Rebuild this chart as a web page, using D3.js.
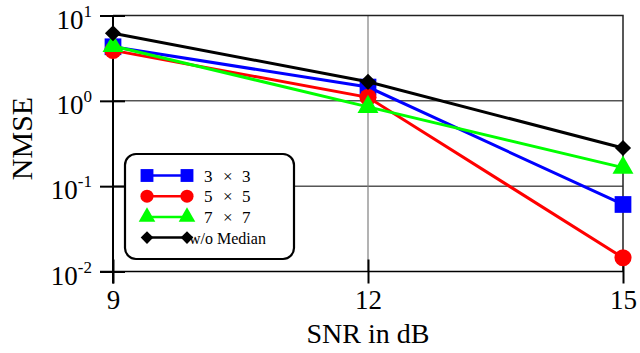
<html>
<head>
<style>
  body { margin: 0; background: #fff; }
  svg { font-family: "Liberation Serif", "DejaVu Serif", serif; }
</style>
</head>
<body>
<div id="graph"></div>
<script src="https://cdnjs.cloudflare.com/ajax/libs/d3/7.8.5/d3.min.js"></script>
<script>
  // data
  var snr = [9, 12, 15];
  var nmse3x3 = [4.3, 1.45, 0.061];
  var nmse5x5 = [3.9, 1.1, 0.0145];
  var nmse7x7 = [4.4, 0.85, 0.165];
  var nmseNoMedian = [6.2, 1.67, 0.28];
  var seriesNames = [["3", "\u00d7", "3"], ["5", "\u00d7", "5"], ["7", "\u00d7", "7"], ["w/o Median"]];
  var yTickExps = [1, 0, -1, -2];

  var width = 640, height = 353;
  // plot box (note: "top" is taken by window.top)
  var pLeft = 113, pRight = 623, pTop = 15.5, pBottom = 271.5;

  var x = d3.scaleLinear().domain([9, 15]).range([pLeft, pRight]);
  var y = d3.scaleLog().domain([0.01, 10]).range([pBottom, pTop]);

  var svg = d3.select("#graph").append("svg")
      .attr("width", width)
      .attr("height", height);

  // grid
  svg.selectAll(".hgrid")
      .data([1, 0.1])
      .enter().append("line")
      .attr("x1", pLeft).attr("x2", pRight)
      .attr("y1", function(d) { return y(d); })
      .attr("y2", function(d) { return y(d); })
      .attr("stroke", "#000").attr("stroke-width", 1);

  svg.append("line")
      .attr("x1", x(12)).attr("x2", x(12))
      .attr("y1", pTop).attr("y2", pBottom)
      .attr("stroke", "#808080").attr("stroke-width", 1.2);

  // frame top / right
  svg.append("path")
      .attr("d", "M" + pLeft + "," + pTop + "H" + pRight + "V" + pBottom)
      .attr("fill", "none").attr("stroke", "#222").attr("stroke-width", 1.5);

  // x axis
  var xAxis = svg.append("g")
      .attr("transform", "translate(0," + pBottom + ")")
      .call(d3.axisBottom(x).tickValues(snr).tickFormat(d3.format("d"))
            .tickSize(12).tickPadding(6).tickSizeOuter(0));
  xAxis.select(".domain").attr("d", "M" + (pLeft - 13) + ",0H" + pRight).attr("stroke-width", 1.5);
  xAxis.selectAll(".tick line").attr("y1", -12).attr("stroke-width", 2);
  xAxis.selectAll(".tick text")
      .attr("font-size", 27).attr("fill", "#000")
      .attr("font-family", "Liberation Serif");

  // y axis
  var yAxis = svg.append("g")
      .attr("transform", "translate(" + pLeft + ",0)")
      .call(d3.axisLeft(y).tickValues(yTickExps.map(function(e) { return Math.pow(10, e); }))
            .tickSize(13).tickSizeOuter(0).tickFormat(""));
  yAxis.select(".domain").attr("d", "M0," + pTop + "V" + (pBottom + 12)).attr("stroke-width", 2);
  yAxis.selectAll(".tick line").attr("x2", -13).attr("x1", 12).attr("stroke-width", 2);

  var yLabels = svg.selectAll(".ylab")
      .data(yTickExps)
      .enter().append("text")
      .attr("x", 92)
      .attr("y", function(e) { return y(Math.pow(10, e)) + 13; })
      .attr("text-anchor", "end")
      .attr("font-size", 27);
  yLabels.append("tspan").text("10");
  yLabels.append("tspan")
      .attr("dy", -12)
      .attr("font-size", 17)
      .text(function(e) { return e; });

  // axis titles
  svg.append("text")
      .attr("x", x(12)).attr("y", 343)
      .attr("text-anchor", "middle")
      .attr("font-size", 28)
      .text("SNR in dB");

  svg.append("text")
      .attr("transform", "translate(32," + ((pTop + pBottom) / 2 - 5) + ") rotate(-90)")
      .attr("text-anchor", "middle")
      .attr("font-size", 30)
      .text("NMSE");

  // series
  var series = [
    { name: seriesNames[0], values: nmse3x3, color: "#0000ff", symbol: d3.symbolSquare, rot: 0, size: 280, legendSize: 165 },
    { name: seriesNames[1], values: nmse5x5, color: "#ff0000", symbol: d3.symbolCircle, rot: 0, size: 230, legendSize: 135 },
    { name: seriesNames[2], values: nmse7x7, color: "#00ff00", symbol: d3.symbolTriangle, rot: 0, size: 190, legendSize: 120 },
    { name: seriesNames[3], values: nmseNoMedian, color: "#000000", symbol: d3.symbolSquare, rot: 45, size: 130, legendSize: 80 }
  ];

  var line = d3.line()
      .x(function(d, i) { return x(snr[i]); })
      .y(function(d) { return y(d); });

  series.forEach(function(s) {
    var g = svg.append("g");
    g.append("path")
        .attr("d", line(s.values))
        .attr("fill", "none")
        .attr("stroke", s.color)
        .attr("stroke-width", 3);
    g.selectAll("path.mark")
        .data(s.values)
        .enter().append("path")
        .attr("class", "mark")
        .attr("transform", function(d, i) {
          return "translate(" + x(snr[i]) + "," + y(d) + ") rotate(" + s.rot + ")";
        })
        .attr("d", d3.symbol().type(s.symbol).size(s.size))
        .attr("fill", s.color);
  });

  // legend
  var legend = svg.append("g").attr("transform", "translate(125,154)");
  legend.append("rect")
      .attr("x", 0).attr("y", 0)
      .attr("width", 169).attr("height", 105)
      .attr("rx", 11).attr("ry", 11)
      .attr("fill", "#fff").attr("stroke", "#000").attr("stroke-width", 2.2);

  var rows = legend.selectAll(".row")
      .data(series)
      .enter().append("g")
      .attr("transform", function(d, i) { return "translate(0," + (21.5 + i * 20.7) + ")"; });
  rows.append("line")
      .attr("x1", 22).attr("x2", 62)
      .attr("stroke", function(d) { return d.color; })
      .attr("stroke-width", 2.5);
  rows.selectAll(".lm")
      .data(function(d) { return [d, d]; })
      .enter().append("path")
      .attr("transform", function(d, i) { return "translate(" + (i ? 62 : 22) + ",0) rotate(" + d.rot + ")"; })
      .attr("d", function(d) { return d3.symbol().type(d.symbol).size(d.legendSize)(); })
      .attr("fill", function(d) { return d.color; });
  rows.selectAll(".lt")
      .data(function(d) { return d.name; })
      .enter().append("text")
      .attr("x", function(t, j) { return t.length > 1 ? 64 : 79 + j * 19; })
      .attr("y", 6)
      .attr("font-size", function(t) { return t.length > 1 ? 16 : 17; })
      .text(function(t) { return t; });
</script>
</body>
</html>
